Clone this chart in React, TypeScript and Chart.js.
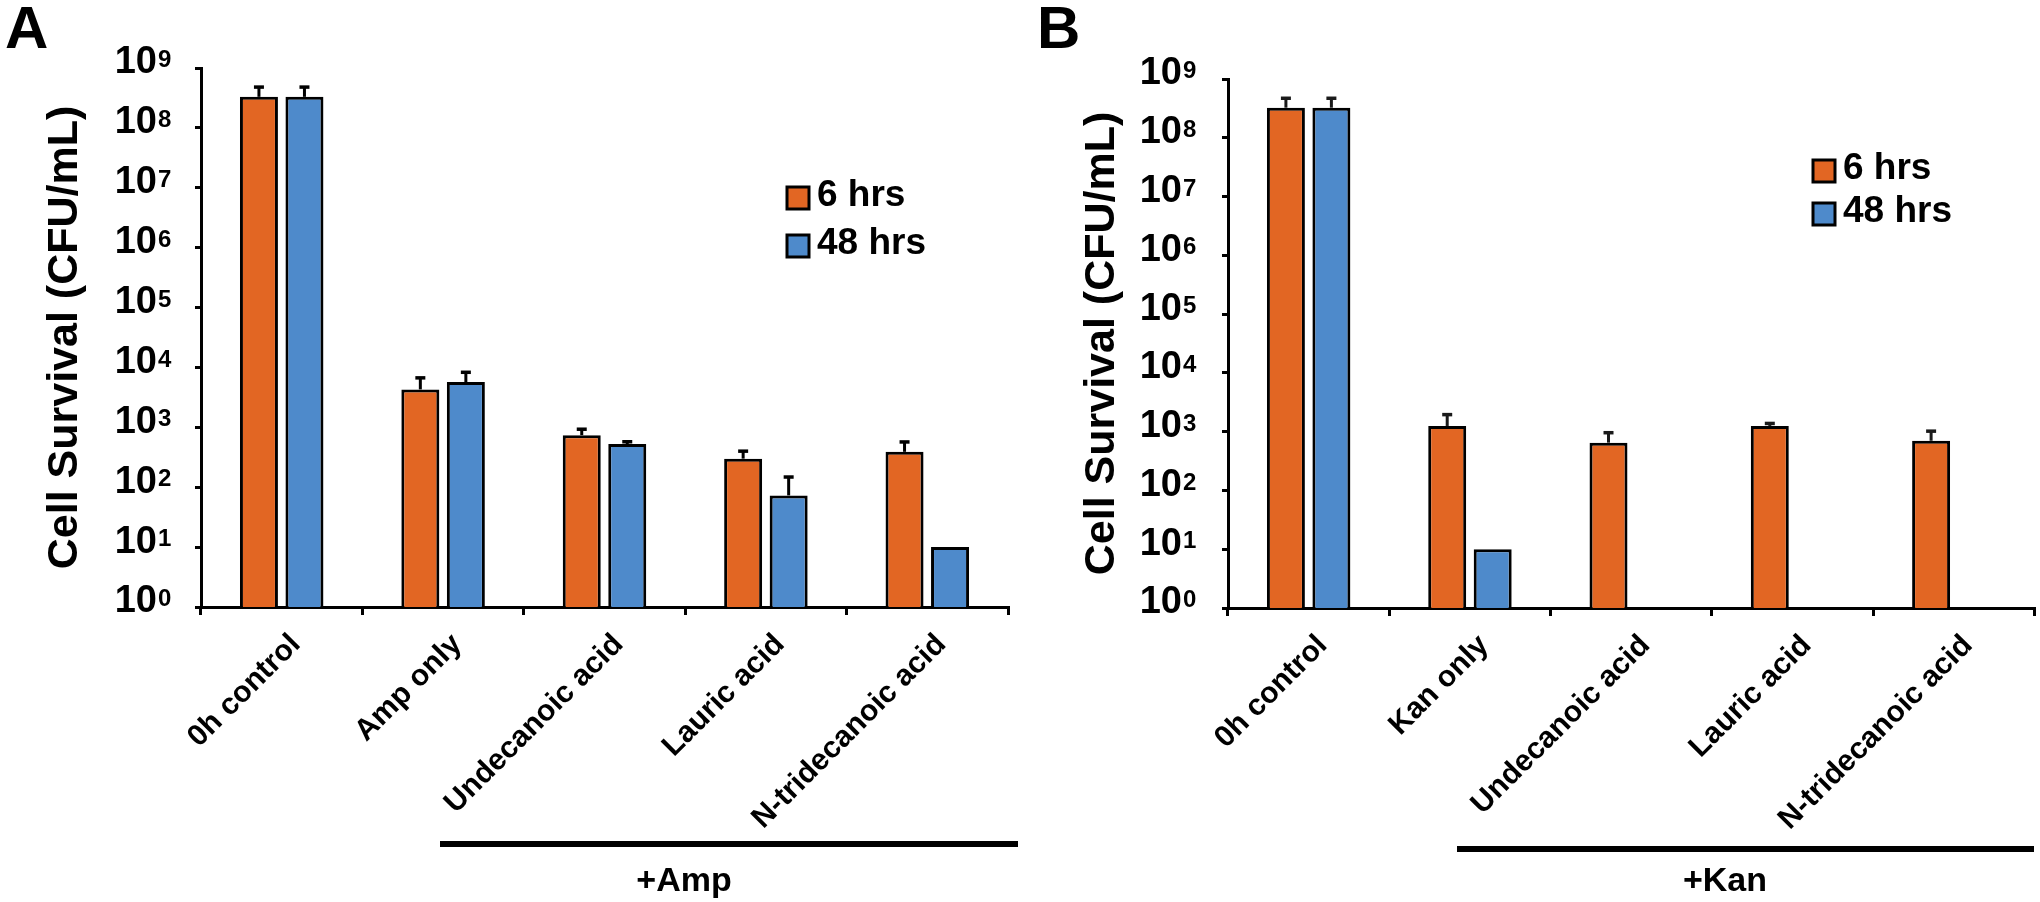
import React, { useEffect, useRef } from 'react';
import { Chart, registerables } from 'chart.js';

Chart.register(...registerables);

// ---------- data ----------
const CATEGORIES_A = ['0h control', 'Amp only', 'Undecanoic acid', 'Lauric acid', 'N-tridecanoic acid'];
const CATEGORIES_B = ['0h control', 'Kan only', 'Undecanoic acid', 'Lauric acid', 'N-tridecanoic acid'];
const SERIES_LABELS = ['6 hrs', '48 hrs'];

const A_6H = [3.3e8, 4300, 740, 300, 390];
const A_6H_ERR = [4.8e8, 6700, 930, 400, 570];
const A_48H = [3.3e8, 5700, 525, 73, 10];
const A_48H_ERR = [4.8e8, 8300, 575, 148, null];

const B_6H = [3.25e8, 1250, 650, 1250, 700];
const B_6H_ERR = [4.7e8, 1950, 960, 1380, 1020];
const B_48H = [3.25e8, 10, null, null, null];
const B_48H_ERR = [4.7e8, null, null, null, null];

const Y_TICKS = [1, 10, 100, 1e3, 1e4, 1e5, 1e6, 1e7, 1e8, 1e9];
const Y_TITLE = 'Cell Survival (CFU/mL)';

// ---------- style ----------
const FONT = 'Arial, "Liberation Sans", Helvetica, sans-serif';
const ORANGE = '#E26623';
const BLUE = '#4E8ACB';
const TICK_FONT = 38;
const EXP_FONT = 24;

const PANEL_A = {
  letter: 'A', letterX: 5, top: 68, bottom: 607, axisX: 201, right: 1008,
  titleX: 65, tickPad: 38, bracket: [440, 1018], bracketY: 844, groupLabel: '+Amp', groupX: 684,
  legendX: 787, legendY: 187, legendGap: 48, errColor: '#000',
};
const PANEL_B = {
  letter: 'B', letterX: 17, top: 79, bottom: 608, axisX: 208, right: 1014.5,
  titleX: 82, tickPad: 40, bracket: [437, 1014], bracketY: 849, groupLabel: '+Kan', groupX: 705,
  legendX: 793, legendY: 160, legendGap: 43, errColor: '#1a1a1a',
};

const CANVAS_W = 1020;
const CANVAS_H = 902;
const Y_TICK_LEN = 6;
const Y_LABEL_OFFSET = -5;

function makeErrorBarPlugin(color: string) {
  return {
    id: 'errorBars',
    afterDatasetsDraw(chart: any) {
      const ctx = chart.ctx;
      const yScale = chart.scales.y;
      chart.data.datasets.forEach((ds: any, i: number) => {
        const meta = chart.getDatasetMeta(i);
        (ds.errors || []).forEach((e: number | null, j: number) => {
          if (e == null || ds.data[j] == null) return;
          const el = meta.data[j];
          if (!el) return;
          const top = yScale.getPixelForValue(e);
          ctx.save();
          ctx.strokeStyle = color;
          ctx.lineWidth = 3;
          ctx.beginPath();
          ctx.moveTo(el.x, el.y);
          ctx.lineTo(el.x, top);
          ctx.stroke();
          ctx.lineWidth = 3.5;
          ctx.beginPath();
          ctx.moveTo(el.x - 5, top);
          ctx.lineTo(el.x + 5, top);
          ctx.stroke();
          ctx.restore();
        });
      });
    },
  };
}

function makeDecorPlugin(p: any) {
  return {
    id: 'decor',
    afterDraw(chart: any) {
      const ctx = chart.ctx;
      const yScale = chart.scales.y;
      ctx.save();
      // exponents of y tick labels
      ctx.fillStyle = '#000';
      ctx.font = `bold ${EXP_FONT}px ${FONT}`;
      ctx.textAlign = 'left';
      ctx.textBaseline = 'alphabetic';
      const xRight = yScale.right - Y_TICK_LEN - p.tickPad;
      yScale.ticks.forEach((t: any) => {
        const py = yScale.getPixelForValue(t.value) + Y_LABEL_OFFSET;
        const digitTop = py - 0.37 * TICK_FONT;
        const exp = Math.round(Math.log10(t.value));
        ctx.fillText(String(exp), xRight + 1, digitTop + 0.716 * EXP_FONT + 1);
      });
      // panel letter
      ctx.font = `bold 60px ${FONT}`;
      ctx.textBaseline = 'alphabetic';
      ctx.fillText(p.letter, p.letterX, 48);
      // legend
      ctx.font = `bold 37px ${FONT}`;
      ctx.textBaseline = 'middle';
      chart.data.datasets.forEach((ds: any, i: number) => {
        const bx = p.legendX;
        const by = p.legendY + i * p.legendGap;
        ctx.fillStyle = ds.backgroundColor;
        ctx.fillRect(bx, by, 22, 22);
        ctx.strokeStyle = '#000';
        ctx.lineWidth = 3;
        ctx.strokeRect(bx, by, 22, 22);
        ctx.fillStyle = '#000';
        ctx.fillText(ds.label, bx + 30, by + 9);
      });
      // group bracket
      ctx.strokeStyle = '#000';
      ctx.lineWidth = 6;
      ctx.beginPath();
      ctx.moveTo(p.bracket[0], p.bracketY);
      ctx.lineTo(p.bracket[1], p.bracketY);
      ctx.stroke();
      ctx.font = `bold 34px ${FONT}`;
      ctx.textAlign = 'center';
      ctx.textBaseline = 'alphabetic';
      ctx.fillText(p.groupLabel, p.groupX, 891);
      ctx.restore();
    },
  };
}

function buildConfig(p: any, labels: string[], s6: any[], e6: any[], s48: any[], e48: any[]): any {
  return {
    type: 'bar',
    data: {
      labels,
      datasets: [
        {
          label: SERIES_LABELS[0], data: s6, errors: e6,
          backgroundColor: ORANGE, borderColor: '#000', borderWidth: 3,
          categoryPercentage: 0.564, barPercentage: 0.835,
        },
        {
          label: SERIES_LABELS[1], data: s48, errors: e48,
          backgroundColor: BLUE, borderColor: '#000', borderWidth: 3,
          categoryPercentage: 0.564, barPercentage: 0.835,
        },
      ],
    },
    options: {
      animation: false,
      responsive: false,
      devicePixelRatio: 1,
      layout: { padding: { top: p.top, left: 0, right: CANVAS_W - p.right, bottom: 0 } },
      plugins: { legend: { display: false }, tooltip: { enabled: false } },
      scales: {
        x: {
          type: 'category',
          offset: true,
          afterFit: (s: any) => { s.height = CANVAS_H - p.bottom; },
          grid: {
            display: true, drawOnChartArea: false, drawTicks: true, offset: true,
            tickLength: 8, lineWidth: 3, color: '#000',
          },
          border: { display: true, color: '#000', width: 3 },
          ticks: {
            color: '#000', font: { family: FONT, size: 30, weight: 'bold' },
            minRotation: 45, maxRotation: 45, autoSkip: false, padding: 12, labelOffset: 14,
          },
        },
        y: {
          type: 'logarithmic',
          min: 1, max: 1e9,
          afterFit: (s: any) => { s.width = p.axisX; },
          afterBuildTicks: (s: any) => { s.ticks = Y_TICKS.map((v) => ({ value: v })); },
          grid: {
            display: true, drawOnChartArea: false, drawTicks: true,
            tickLength: Y_TICK_LEN, lineWidth: 3, color: '#000',
          },
          border: { display: true, color: '#000', width: 3 },
          ticks: {
            color: '#000', font: { family: FONT, size: TICK_FONT, weight: 'bold' },
            padding: p.tickPad, labelOffset: Y_LABEL_OFFSET, autoSkip: false,
            callback: () => '10',
          },
          title: {
            display: true, text: Y_TITLE, color: '#000',
            font: { family: FONT, size: 43, weight: 'bold' },
            padding: { top: p.titleX - 25.8, bottom: 0 },
          },
        },
      },
    },
    plugins: [makeErrorBarPlugin(p.errColor), makeDecorPlugin(p)],
  };
}

export default function App() {
  const refA = useRef<HTMLCanvasElement>(null);
  const refB = useRef<HTMLCanvasElement>(null);

  useEffect(() => {
    const a = new Chart(refA.current as HTMLCanvasElement, buildConfig(PANEL_A, CATEGORIES_A, A_6H, A_6H_ERR, A_48H, A_48H_ERR));
    const b = new Chart(refB.current as HTMLCanvasElement, buildConfig(PANEL_B, CATEGORIES_B, B_6H, B_6H_ERR, B_48H, B_48H_ERR));
    return () => { a.destroy(); b.destroy(); };
  }, []);

  return (
    <div style={{ position: 'absolute', left: 0, top: 0, width: 2040, height: 902, background: '#fff', overflow: 'hidden' }}>
      <canvas ref={refA} width={CANVAS_W} height={CANVAS_H} style={{ position: 'absolute', left: 0, top: 0 }} />
      <canvas ref={refB} width={CANVAS_W} height={CANVAS_H} style={{ position: 'absolute', left: CANVAS_W, top: 0 }} />
    </div>
  );
}
